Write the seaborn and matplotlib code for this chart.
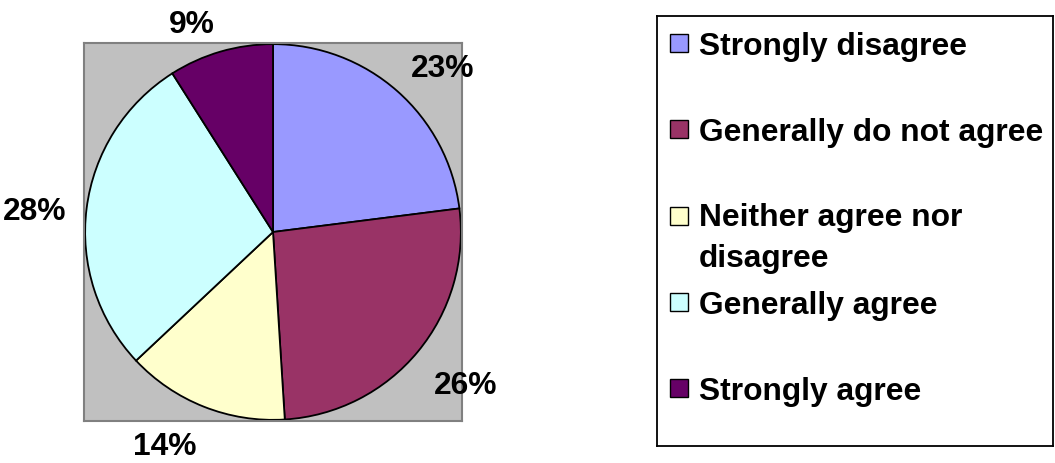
import numpy as np
import matplotlib
matplotlib.use("Agg")
import matplotlib.pyplot as plt
from matplotlib.patches import Rectangle
from matplotlib.transforms import offset_copy
import seaborn as sns

# Survey responses (percent of respondents)
categories = [
    "Strongly disagree",
    "Generally do not agree",
    "Neither agree nor\ndisagree",
    "Generally agree",
    "Strongly agree",
]
shares = [23, 26, 14, 28, 9]
slice_colors = ["#9999FF", "#993366", "#FFFFCC", "#CCFFFF", "#660066"]

sns.set_theme(style="white")
plt.rcParams["font.family"] = ["Liberation Sans", "DejaVu Sans"]
palette = sns.color_palette(slice_colors)

W, H = 1055, 464
fig = plt.figure(figsize=(W / 100, H / 100), dpi=100)
fig.patch.set_facecolor("white")


def px_axes(x0, y0, x1, y1):
    """Axes placed by pixel box (top-left origin)."""
    return fig.add_axes([x0 / W, (H - y1) / H, (x1 - x0) / W, (y1 - y0) / H])


FONT = dict(fontsize=22.9, fontweight="bold", color="black")

# ---- pie on a grey plot area ----
ax = px_axes(84, 44, 462, 422)
wedges, _, pct_texts = ax.pie(
    shares,
    colors=palette,
    startangle=90,
    counterclock=False,
    radius=1.0,
    autopct=lambda p: f"{p:.0f}%",
    pctdistance=1.11,
    wedgeprops=dict(edgecolor="black", linewidth=1.3),
    textprops=FONT,
)
ax.set_frame_on(True)
ax.set_facecolor("#C0C0C0")
ax.set_xlim(-1.006, 1.006)
ax.set_ylim(-1.006, 1.006)
ax.set_aspect("auto")
for s in ax.spines.values():
    s.set_visible(True)
    s.set_color("#808080")
    s.set_linewidth(1.5)

# labels sit just outside the rim, anchored on the side facing the slice
for w, t in zip(wedges, pct_texts):
    mid = np.deg2rad((w.theta1 + w.theta2) / 2)
    ux, uy = np.cos(mid), np.sin(mid)
    t.set_ha("center" if abs(ux) < 0.15 else ("left" if ux > 0 else "right"))
    if uy > 0.5:
        t.set_va("baseline")
    else:
        t.set_va("center" if uy > -0.5 else "top")
        t.set_transform(offset_copy(t.get_transform(), fig=fig, y=-5, units="dots"))
    t.set_clip_on(False)

# ---- legend box ----
lg = px_axes(657, 17, 1053, 447)
lg.set_xlim(0, 396)
lg.set_ylim(430, 0)
lg.set_xticks([])
lg.set_yticks([])
lg.set_facecolor("white")
for s in lg.spines.values():
    s.set_visible(True)
    s.set_color("black")
    s.set_linewidth(1.3)

step = 86.25
line_gap = 40
for i, (lab, col) in enumerate(zip(categories, palette)):
    cy = 27 + i * step
    lg.add_patch(Rectangle((13, cy - 9), 18, 18, facecolor=col,
                           edgecolor="black", linewidth=1.0))
    n_lines = lab.count("\n") + 1
    lg.text(42, cy + 11 + (n_lines - 1) * line_gap, lab, ha="left",
            va="baseline", linespacing=1.48, **FONT)

fig.savefig("out.png", dpi=100, facecolor="white")
